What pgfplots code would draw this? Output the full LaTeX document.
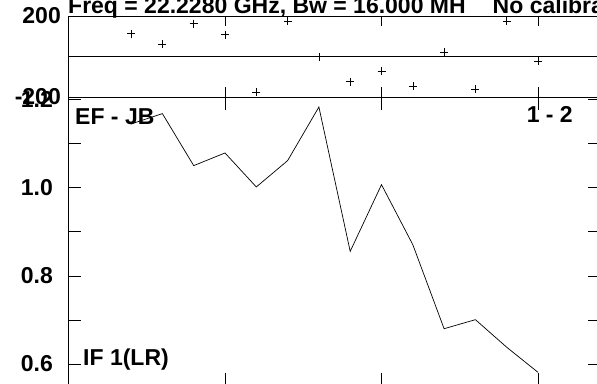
\documentclass[border=0pt]{standalone}
\usepackage{pgfplots}
\pgfplotsset{compat=1.18}
\usepackage{pgfplotstable}
\usepackage{fontspec}
\setmainfont{Liberation Sans}

% channel, phase (deg), amplitude
\pgfplotstableread{
ch  phase   amp
1   112.6   1.1445
2    61.7   1.168
3   162.0   1.050
4   107.7   1.0787
5  -175.3   1.0016
6   173.8   1.0613
7    -1.0   1.183
8  -124.4   0.8555
9   -73.1   1.0068
10 -147.2   0.8707
11   20.7   0.680
12 -162.0   0.7005
13  173.8   0.638
14  -23.7   0.581
}\vis

\pgfplotsset{
  panel/.style={
    scale only axis, width=532.1pt,
    xmin=-1, xmax=16,
    xtick={4,9,14}, xticklabels={},
    tick align=inside,
    axis line style={black, line width=0.8pt},
    every tick/.style={black, line width=0.6pt},
    /pgf/number format/assume math mode=true,
    yticklabel style={font=\fontsize{23}{27}\selectfont\bfseries, anchor=east, inner sep=0pt},
    clip=false,
  },
}

\begin{document}
\begin{tikzpicture}[font=\fontsize{23}{27}\selectfont\bfseries]
\useasboundingbox (0pt,0pt) rectangle (597pt,383pt);
\clip (0pt,0pt) rectangle (597pt,383pt);
\begin{scope}[overlay]

% phase panel
\begin{axis}[panel,
  at={(68.5pt,286pt)}, anchor=south west, height=81pt,
  ymin=-200, ymax=200,
  ytick={-200,200}, yticklabels={-200,200},
  yticklabel style={xshift=-7.5pt},
  extra y ticks={0}, extra y tick labels={},
  extra y tick style={grid=major, major tick length=0pt},
  major grid style={black, line width=0.6pt},
  major tick length=10pt,
]
\addplot [only marks, mark=+, mark size=4pt, line width=0.55pt, black] table [x=ch, y=phase] {\vis};
\end{axis}

% amplitude panel
\begin{axis}[panel,
  at={(68.5pt,286pt)}, anchor=north west, height=289pt,
  ymin=0.55, ymax=1.2057,
  ytick={0.6,0.7,0.8,0.9,1.0,1.1,1.2},
  yticklabels={0.6,,0.8,,1.0,,1.2},
  yticklabel style={xshift=-15.5pt},
  major tick length=13pt,
]
\addplot [black, line width=0.7pt, mark=none] table [x=ch, y=amp] {\vis};
\end{axis}

\node [anchor=base west, inner sep=0pt] at (68pt,369.5pt) {Freq = 22.2280 GHz, Bw = 16.000 MH\hspace{27pt}No calibration applied};
\node [anchor=base west, inner sep=0pt] at (75pt,258.5pt) {EF - JB};
\node [anchor=base east, inner sep=0pt] at (573pt,260pt) {1 - 2};
\node [anchor=base west, inner sep=0pt] at (83pt,18pt) {IF 1(LR)};
\end{scope}
\end{tikzpicture}
\end{document}
